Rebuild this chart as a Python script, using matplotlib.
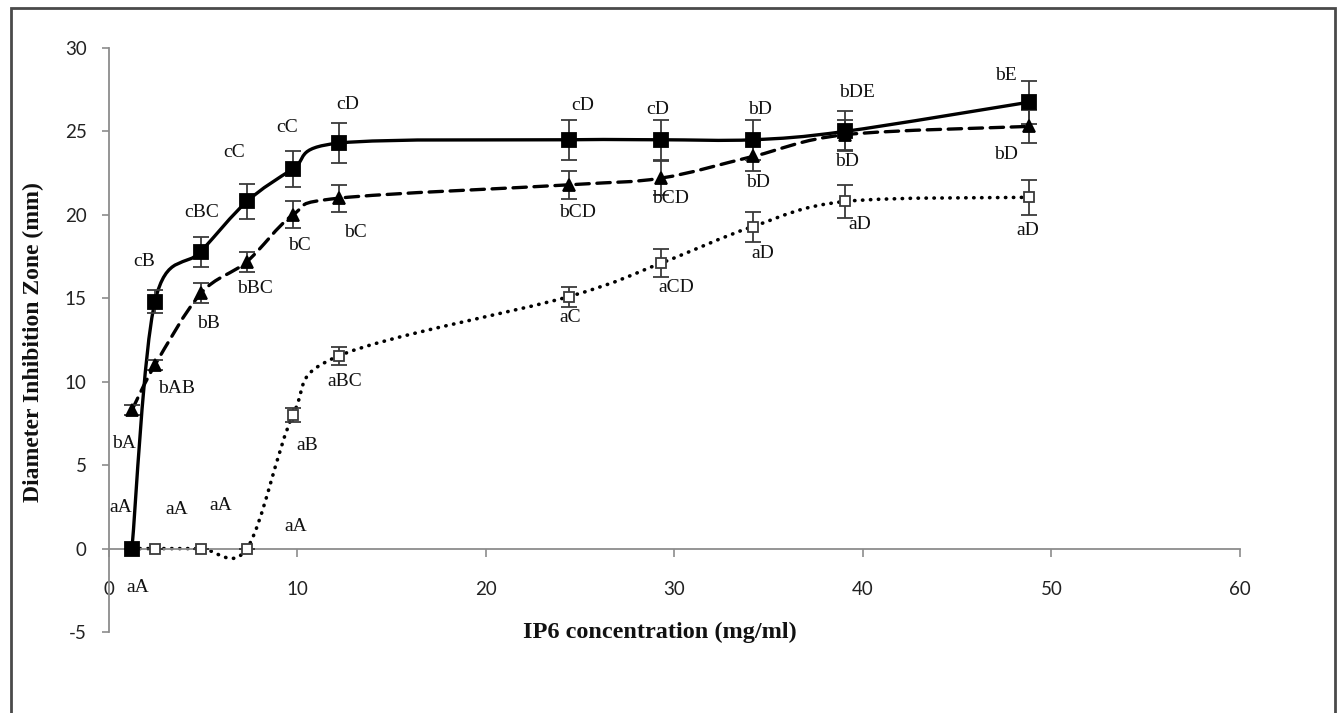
import numpy as np
import matplotlib
matplotlib.use('Agg')
from matplotlib import pyplot as plt
from matplotlib.path import Path
from matplotlib.patches import PathPatch, Rectangle

plt.rcParams['axes.unicode_minus'] = False

# IP6 concentration (mg/ml)
conc = [1.22, 2.44, 4.88, 7.32, 9.76, 12.2, 24.4, 29.28, 34.16, 39.04, 48.8]

# filled squares, solid line
sq_val = [0, 14.8, 17.8, 20.8, 22.75, 24.3, 24.5, 24.5, 24.5, 25.0, 26.75]
sq_err = [0, 0.7, 0.9, 1.05, 1.1, 1.2, 1.2, 1.2, 1.2, 1.2, 1.3]
sq_lab = ['aA', 'cB', 'cBC', 'cC', 'cC', 'cD', 'cD', 'cD', 'bD', 'bDE', 'bE']

# filled triangles, dashed line
tri_val = [8.3, 11.0, 15.3, 17.2, 20.0, 21.0, 21.8, 22.2, 23.5, 24.8, 25.3]
tri_err = [0.3, 0.3, 0.6, 0.6, 0.8, 0.8, 0.85, 1.0, 0.9, 0.9, 1.0]
tri_lab = ['bA', 'bAB', 'bB', 'bBC', 'bC', 'bC', 'bCD', 'bCD', 'bD', 'bD', 'bD']

# open squares, dotted line
op_val = [0, 0, 0, 0, 8.0, 11.55, 15.1, 17.1, 19.3, 20.8, 21.05]
op_err = [0, 0, 0, 0, 0.4, 0.55, 0.6, 0.85, 0.9, 1.0, 1.05]
op_lab = ['aA', 'aA', 'aA', 'aA', 'aB', 'aBC', 'aC', 'aCD', 'aD', 'aD', 'aD']

# label offsets in pixels (dx, dy)
sq_off = [(6, -39), (-11, 40), (1, 39), (-13, 49), (-6, 41), (9, 39),
          (14, 34), (-3, 30), (7, 30), (12, 39), (-23, 27)]
tri_off = [(-8, -33), (22, -23), (8, -30), (8, -27), (7, -31), (17, -34),
           (9, -28), (10, -20), (5, -26), (2, -27), (-23, -28)]
op_off = [(-11, 41), (22, 39), (20, 43), (49, 22), (14, -30), (6, -26),
          (1, -21), (15, -24), (10, -27), (15, -23), (-1, -33)]

serif = 'Liberation Serif'
sans = 'Lato'


# excel-like smoothed line (bezier through the points)
def smooth_path(xs, ys):
    pts = np.column_stack([xs, ys]).astype(float)
    n = len(pts)
    verts = [pts[0]]
    codes = [Path.MOVETO]
    for i in range(n - 1):
        p0 = pts[max(i - 1, 0)]
        p1 = pts[i]
        p2 = pts[i + 1]
        p3 = pts[min(i + 2, n - 1)]
        verts += [p1 + (p2 - p0) / 6, p2 - (p3 - p1) / 6, p2]
        codes += [Path.CURVE4] * 3
    return Path(verts, codes)


fig = plt.figure(figsize=(13.4, 7.13), dpi=100)
ax = fig.add_axes([0.0813, 0.1136, 0.8440, 0.8191])

series = [
    (op_val, op_err, op_lab, op_off, 's', 7, 'white', '#3a3a3a', (0, (0.1, 2.1)), 2.6),
    (tri_val, tri_err, tri_lab, tri_off, '^', 9, 'black', 'black', (0, (4, 2.3)), 2.4),
    (sq_val, sq_err, sq_lab, sq_off, 's', 10, 'black', 'black', 'solid', 2.4),
]

for vals, errs, labs, offs, mk, ms, fc, ec, ls, lw in series:
    patch = PathPatch(smooth_path(conc, vals), fill=False, lw=lw, ls=ls,
                      edgecolor='black', capstyle='round' if ls != 'solid' else 'butt')
    ax.add_patch(patch)
    ax.errorbar(conc, vals, yerr=errs, fmt=mk, ms=ms, mfc=fc, mec=ec, mew=1.3,
                ecolor='#3a3a3a', elinewidth=1.3, capsize=6, capthick=1.3, zorder=3)
    for x, y, t, (dx, dy) in zip(conc, vals, labs, offs):
        ax.annotate(t, (x, y), xytext=(dx, dy), textcoords='offset pixels',
                    ha='center', va='center', fontsize=14, family=serif,
                    color='#111111')

ax.set_xlim(0, 60)
ax.set_ylim(-5, 30)
ax.set_xticks(range(0, 61, 10))
ax.set_yticks(range(-5, 31, 5))

for s in ['top', 'right']:
    ax.spines[s].set_visible(False)
ax.spines['bottom'].set_position(('data', 0))
ax.spines['left'].set_color('#8c8c8c')
ax.spines['bottom'].set_color('#8c8c8c')
ax.spines['left'].set_linewidth(1.3)
ax.spines['bottom'].set_linewidth(1.3)

ax.tick_params(axis='x', direction='out', length=6, width=1.2, color='#8c8c8c',
               pad=17, labelsize=13.5, labelcolor='#222222')
ax.tick_params(axis='y', direction='out', length=5, width=1.2, color='#8c8c8c',
               pad=11, labelsize=13.5, labelcolor='#222222')
for lab in ax.get_xticklabels() + ax.get_yticklabels():
    lab.set_family(sans)

fig.text(33 / 1340, 1 - 342 / 713, 'Diameter Inhibition Zone (mm)', rotation=90,
         ha='center', va='center', fontsize=17, fontweight='bold', family=serif,
         color='#111111')
fig.text(660 / 1340, 1 - 632 / 713, 'IP6 concentration (mg/ml)', ha='center',
         va='center', fontsize=17.5, fontweight='bold', family=serif, color='#111111')

# frame around the whole picture
fig.add_artist(Rectangle((11 / 1340, -0.02), (1335 - 11) / 1340, 1 - 8 / 713 + 0.02,
                         transform=fig.transFigure, fill=False, ec='#4a4a4a', lw=2))

fig.savefig('out.png', dpi=100)
